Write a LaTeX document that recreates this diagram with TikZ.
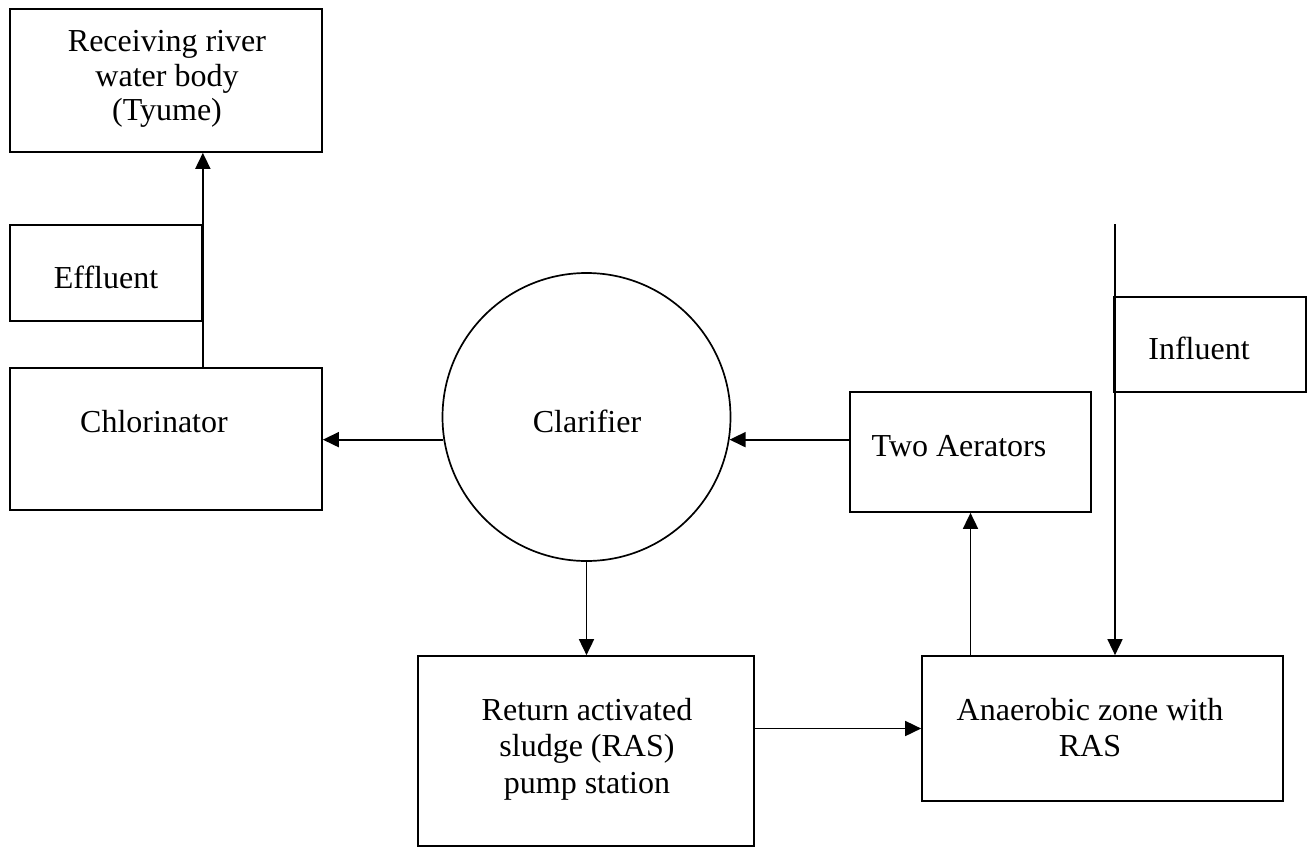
\documentclass[tikz,border=0pt]{standalone}
\usepackage{fontspec}
\setmainfont{Liberation Serif}
\usetikzlibrary{arrows.meta}
\tikzset{
  box/.style={draw=black, line width=1.7pt, rectangle, inner sep=0pt, anchor=center},
  circ/.style={draw=black, line width=1.7pt, circle, inner sep=0pt, minimum size=288pt},
  txt/.style={inner sep=0pt, font=\fontsize{32}{36.5}\selectfont},
  mtxt/.style={txt, text width=360pt, align=flush center, anchor=base},
  arr/.style={line width=1.7pt, -{Triangle[length=16pt,width=15pt]}}
}
\begin{document}
\begin{tikzpicture}[x=1pt,y=-1pt]
\useasboundingbox[fill=white] (0,0) rectangle (1313,848);
% boxes
\node[box, minimum width=312pt, minimum height=143pt] (recv) at (166,80.5) {};
\node[box, minimum width=192pt, minimum height=96pt] (eff) at (106,273) {};
\node[box, minimum width=312pt, minimum height=142pt] (chlor) at (166,439) {};
\node[circ] (clar) at (586.5,417) {};
\node[box, minimum width=241pt, minimum height=120pt] (aer) at (970.5,452) {};
\node[box, minimum width=192pt, minimum height=95pt] (infl) at (1210,344.5) {};
\node[box, minimum width=361pt, minimum height=145pt] (anaer) at (1102.5,728.5) {};
\node[box, minimum width=336pt, minimum height=190pt] (ras) at (586,751) {};
% texts
\node[mtxt, font=\fontsize{32}{34.5}\selectfont] (trecv) at (167,52) {Receiving river\\water body\\(Tyume)};
\node[txt, anchor=base] (teff) at (106,288) {Effluent};
\node[txt, anchor=base] (tchlor) at (154,432) {Chlorinator};
\node[txt, anchor=base] (tclar) at (587,432) {Clarifier};
\node[txt, anchor=base] (taer) at (959,456) {Two Aerators};
\node[txt, anchor=base] (tinfl) at (1199,359) {Influent};
\node[mtxt] (tanaer) at (1090,720) {Anaerobic zone with\\RAS};
\node[mtxt] (tras) at (587,720) {Return activated\\sludge (RAS)\\pump station};
% connectors
\coordinate (inTop) at (1115,224);
\draw[arr] (chlor.north -| eff.east) -- (recv.south -| eff.east);
\draw[arr] (clar.189.6) -- (chlor.east |- clar.189.6);
\draw[arr] (aer.west |- clar.-9.6) -- (clar.-9.6);
\draw[arr] (clar.south) -- (clar.south |- ras.north);
\draw[arr] (ras.east |- anaer.west) -- (anaer.west);
\draw[arr] (aer.south |- anaer.north) -- (aer.south);
\draw[arr] (inTop) -- (inTop |- anaer.north);
\end{tikzpicture}
\end{document}
